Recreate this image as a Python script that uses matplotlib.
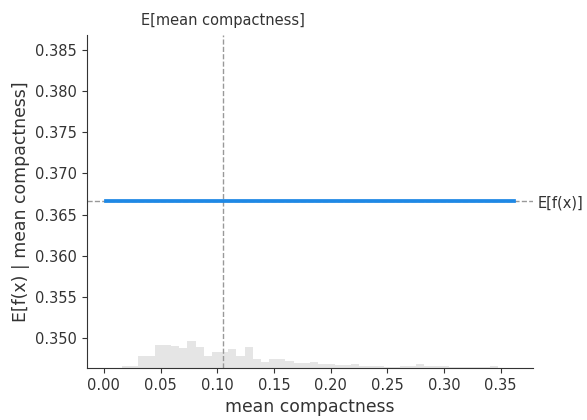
import numpy as np
import matplotlib
matplotlib.use("Agg")
import matplotlib.pyplot as plt

# partial dependence of the model output on mean compactness
feature = "mean compactness"
n_samples = 569
expected_value = 0.3666
feature_mean = 0.1047
pd_x = [0.0016, 0.362]
pd_y = [0.3666, 0.3666]

# histogram of the feature (counts per bin, 50 bins over the pd range)
hist_counts = [0, 0, 3, 3, 21, 21, 39, 39, 37, 34,
               46, 36, 21, 27, 27, 33, 21, 36, 16, 10,
               15, 15, 12, 9, 9, 10, 6, 6, 5, 5,
               6, 3, 3, 3, 2, 2, 3, 3, 6, 3,
               3, 3, 2, 2, 1, 1, 1, 3, 0, 0]

blue = "#1E88E5"

fig = plt.figure(figsize=(5.87, 4.2), dpi=100)
ax1 = fig.add_axes([0.148, 0.124, 0.76, 0.793])

# histogram on a twin axis
ax2 = ax1.twinx()
edges = np.linspace(pd_x[0], pd_x[1], len(hist_counts) + 1)
ax2.bar(edges[:-1], hist_counts, width=np.diff(edges), align="edge",
        color="black", alpha=0.1, linewidth=0)
ax2.set_ylim(0, n_samples)
ax2.set_yticks([])
for s in ax2.spines.values():
    s.set_visible(False)

ax1.plot(pd_x, pd_y, color=blue, linewidth=2.7, zorder=5)
ax1.axhline(expected_value, color="#999999", zorder=-1, linestyle="--", linewidth=1)
ax1.axvline(feature_mean, color="#999999", zorder=-1, linestyle="--", linewidth=1)

ax1.set_xlim(-0.015, 0.3785)
ax1.set_ylim(0.3464, 0.3868)
ax1.set_xticks(np.arange(0, 0.36, 0.05))
ax1.set_yticks([0.350, 0.355, 0.360, 0.365, 0.370, 0.375, 0.380, 0.385])
ax1.tick_params(labelsize=10.5, colors="#333333")
ax1.set_xlabel(feature, fontsize=12.4, color="#333333")
ax1.set_ylabel("E[f(x) | " + feature + "]", fontsize=12.4, color="#333333")
ax1.spines["top"].set_visible(False)
ax1.spines["right"].set_visible(False)
ax1.spines["left"].set_color("#333333")
ax1.spines["bottom"].set_color("#333333")
ax1.set_zorder(ax2.get_zorder() + 1)
ax1.patch.set_visible(False)

# E[f(x)] label on the right
ax3 = ax1.twinx()
ax3.set_ylim(ax1.get_ylim())
ax3.set_yticks([expected_value])
ax3.set_yticklabels(["E[f(x)]"], fontsize=10.5, color="#333333")
ax3.tick_params(length=0)
for s in ax3.spines.values():
    s.set_visible(False)

# E[feature] label on top
ax4 = ax1.twiny()
ax4.set_xlim(ax1.get_xlim())
ax4.set_xticks([feature_mean])
ax4.set_xticklabels(["E[" + feature + "]"], fontsize=10.5, color="#333333")
ax4.tick_params(length=0, pad=5)
for s in ax4.spines.values():
    s.set_visible(False)

fig.savefig("out.png", dpi=100)
